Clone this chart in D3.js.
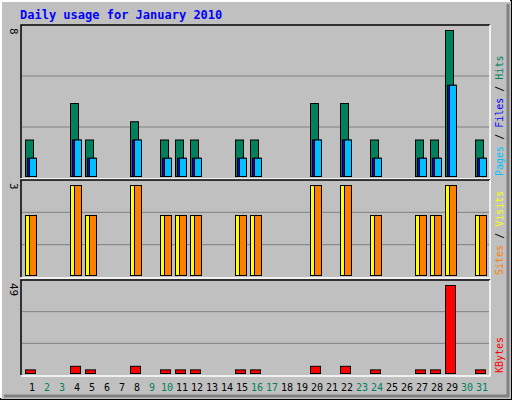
<!DOCTYPE html>
<html><head><meta charset="utf-8">
<script src="https://cdn.jsdelivr.net/npm/d3@7"></script>
<style>body{margin:0;background:#fff}</style>
</head><body>
<script>
const days = d3.range(1, 32);
const weekends = [2, 3, 9, 10, 16, 17, 23, 24, 30, 31];
const hits   = [2,0,0,4,2,0,0,3,0,2,2,2,0,0,2,2,0,0,0,4,0,4,0,2,0,0,2,2,8,0,2];
const files  = [1,0,0,2,1,0,0,2,0,1,1,1,0,0,1,1,0,0,0,2,0,2,0,1,0,0,1,1,5,0,1];
const pages  = files;
const visits = [2,0,0,3,2,0,0,3,0,2,2,2,0,0,2,2,0,0,0,3,0,3,0,2,0,0,2,2,3,0,2];
const sites  = visits;
const kbytes = [2,0,0,4,2,0,0,4,0,2,2,2,0,0,2,2,0,0,0,4,0,4,0,2,0,0,2,2,49,0,2];

const W = 512, H = 400;
const svg = d3.select("body").append("svg").attr("width", W).attr("height", H)
  .style("font-family", "DejaVu Sans Mono, monospace");

// frame
svg.append("rect").attr("x", 0.5).attr("y", 0.5).attr("width", W - 1).attr("height", H - 1)
  .attr("fill", "#c0c0c0").attr("stroke", "#000");
svg.append("path").attr("d", "M1,398V1H510").attr("fill", "none").attr("stroke", "#fff").attr("stroke-width", 2);
svg.append("path").attr("d", "M4,396H508V4").attr("fill", "none").attr("stroke", "#808080").attr("stroke-width", 3);

svg.append("text").attr("x", 20).attr("y", 19).attr("fill", "#0000ff")
  .attr("font-size", 12).attr("font-weight", "bold").text("Daily usage for January 2010");

const x = d3.scaleLinear().domain([1, 31]).range([26, 476]);
const L = 21, R = 490;

const panels = [
  {top: 25, bot: 178, max: 8, series: [
    {v: hits, c: "#00805c", dx: 0, w: 8},
    {v: pages, c: "#0000ff", dx: 2, w: 8},
    {v: files, c: "#00c0ff", dx: 4, w: 7}],
   label: [["Pages", "#00c0ff"], [" / ", "#000"], ["Files", "#0000ff"], [" / ", "#000"], ["Hits", "#00805c"]]},
  {top: 180, bot: 277, max: 3, series: [
    {v: visits, c: "#ffff00", dx: 0, w: 8},
    {v: sites, c: "#ff8000", dx: 4, w: 7}],
   label: [["Sites", "#ff8000"], [" / ", "#000"], ["Visits", "#ffff00"]]},
  {top: 280, bot: 375, max: 49, series: [
    {v: kbytes, c: "#ff0000", dx: 0, w: 10}],
   label: [["KBytes", "#ff0000"]]}
];

panels.forEach(p => {
  const y = d3.scaleLinear().domain([0, p.max]).range([p.bot - 2, p.top + 5]);
  const g = svg.append("g");
  g.append("rect").attr("x", L).attr("y", p.top).attr("width", R - L).attr("height", p.bot - p.top)
    .attr("fill", "#c0c0c0");
  g.append("path").attr("d", `M${L},${p.bot}V${p.top}H${R}`).attr("fill", "none").attr("stroke", "#000").attr("stroke-width", 1.5);
  g.append("path").attr("d", `M${L},${p.bot + 1}H${R}V${p.top}`).attr("fill", "none").attr("stroke", "#fff").attr("stroke-width", 1.5);
  [1, 2].forEach(k => {
    const gy = p.top + (p.bot - p.top) * k / 3;
    g.append("line").attr("x1", L + 1).attr("x2", R - 1).attr("y1", gy).attr("y2", gy)
      .attr("stroke", "#808080").attr("stroke-width", 1);
  });
  p.series.forEach(s => {
    g.selectAll(null).data(days.filter(d => s.v[d - 1] > 0)).join("rect")
      .attr("x", d => x(d) + s.dx - 1 + 0.5)
      .attr("y", d => y(s.v[d - 1]) + 0.5)
      .attr("width", s.w)
      .attr("height", d => p.bot - 2 - y(s.v[d - 1]))
      .attr("fill", s.c).attr("stroke", "#000").attr("stroke-width", 1);
  });
  g.append("text").attr("transform", `translate(10,${p.top + 3}) rotate(90)`)
    .attr("font-size", 11).attr("fill", "#000").text(p.max);
  const t = g.append("text").attr("transform", `translate(503,${p.bot - 2}) rotate(-90)`)
    .attr("font-size", 10);
  p.label.forEach(([s, c]) => t.append("tspan").attr("fill", c).text(s));
});

svg.append("g").selectAll("text").data(days).join("text")
  .attr("x", d => x(d) + 6).attr("y", 391).attr("text-anchor", "middle")
  .attr("font-size", 10).attr("font-family", "DejaVu Sans Mono, monospace")
  .attr("fill", d => weekends.includes(d) ? "#00805c" : "#000").text(d => d);
</script>
</body></html>
